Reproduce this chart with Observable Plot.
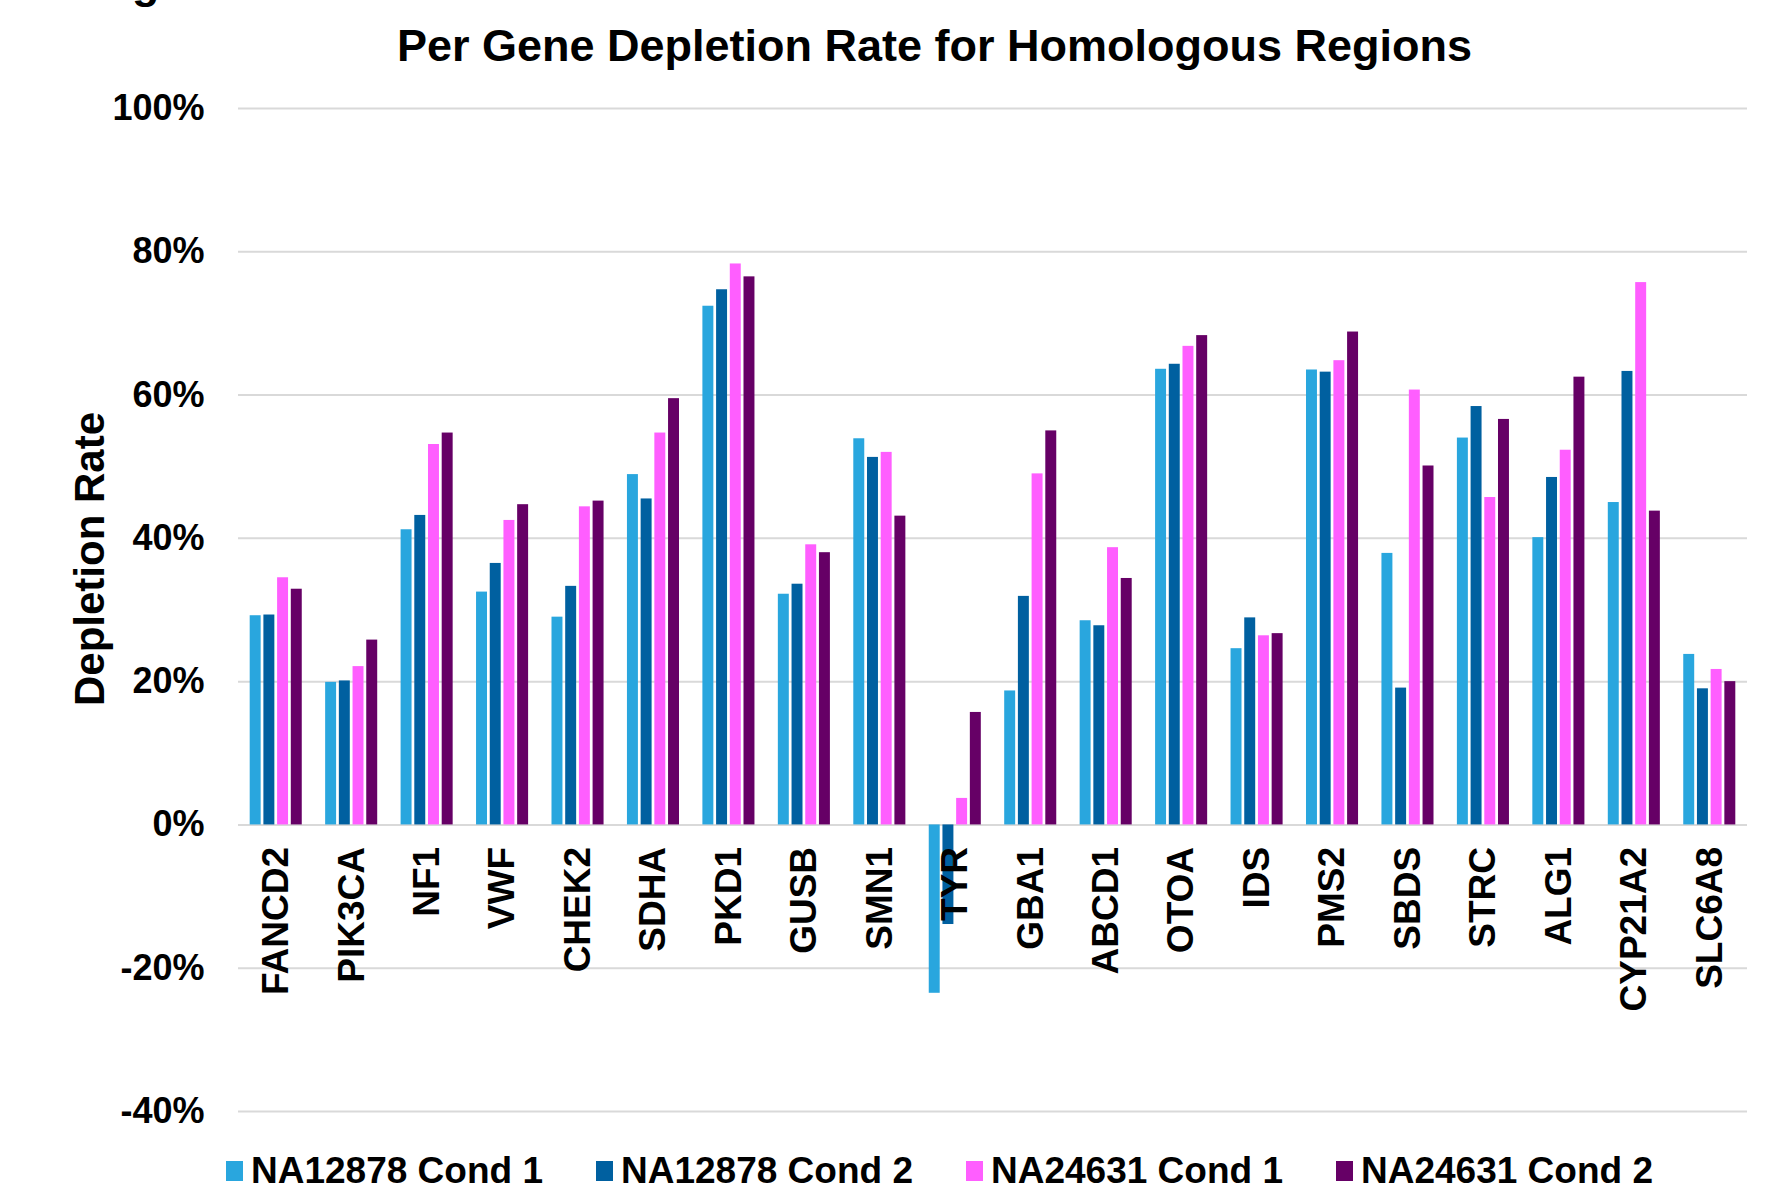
<!DOCTYPE html>
<html>
<head>
<meta charset="utf-8">
<script src="https://cdn.jsdelivr.net/npm/d3@7"></script>
<script src="https://cdn.jsdelivr.net/npm/@observablehq/plot@0.6"></script>
<style>
  html, body { margin: 0; padding: 0; background: #fff; overflow: hidden; }
  body { font-family: "Liberation Sans", Arial, sans-serif; color: #000; }
  #wrap { position: relative; width: 1781px; }
  #fig { position: absolute; left: 92px; top: -40px; font-size: 45px; font-weight: bold; line-height: 1; white-space: nowrap; }
  #title { height: 92px; box-sizing: border-box; padding-left: 88px; display: flex; align-items: center; justify-content: center; font-size: 45px; font-weight: bold; white-space: nowrap; }
  #chart svg { display: block; }
  #legend { height: 49px; box-sizing: border-box; padding-top: 12px; display: flex; align-items: flex-start; padding-left: 226px; font-size: 37px; line-height: 37px; font-weight: bold; white-space: nowrap; }
  .item { display: flex; align-items: center; margin-right: 53px; }
  .sw { width: 17px; height: 20px; margin-right: 8px; }
</style>
</head>
<body>
<div id="wrap">
  <div id="fig">Fig</div>
  <div id="title">Per Gene Depletion Rate for Homologous Regions</div>
  <div id="chart"></div>
  <div id="legend"></div>
</div>
<script>
const genes = ["FANCD2","PIK3CA","NF1","VWF","CHEK2","SDHA","PKD1","GUSB","SMN1","TYR","GBA1","ABCD1","OTOA","IDS","PMS2","SBDS","STRC","ALG1","CYP21A2","SLC6A8"];
const seriesNames = ["NA12878 Cond 1","NA12878 Cond 2","NA24631 Cond 1","NA24631 Cond 2"];
const seriesColors = ["#29A6DE","#0060A0","#FF5EFF","#660066"];
const na12878Cond1 = [29.2,19.9,41.2,32.5,29.0,48.9,72.4,32.2,53.9,-23.5,18.7,28.5,63.6,24.6,63.5,37.9,54.0,40.1,45.0,23.8];
const na12878Cond2 = [29.3,20.1,43.2,36.5,33.3,45.5,74.7,33.6,51.3,-13.9,31.9,27.8,64.3,28.9,63.2,19.1,58.4,48.5,63.3,19.0];
const na24631Cond1 = [34.5,22.1,53.1,42.5,44.4,54.7,78.3,39.1,52.0,3.7,49.0,38.7,66.8,26.4,64.8,60.7,45.7,52.3,75.7,21.7];
const na24631Cond2 = [32.9,25.8,54.7,44.7,45.2,59.5,76.5,38.0,43.1,15.7,55.0,34.4,68.3,26.7,68.8,50.1,56.6,62.5,43.8,20.0];
const yTicks = [-40,-20,0,20,40,60,80,100];

const seriesValues = [na12878Cond1, na12878Cond2, na24631Cond1, na24631Cond2];
const rows = [];
genes.forEach((g, i) => seriesValues.forEach((vals, s) => rows.push({gene: g, index: i, s, series: seriesNames[s], value: vals[i]})));

// group layout within each category step (fractions of the step)
const groupWidth = 0.69, barPad = 0.2;
const pitch = groupWidth / (4 - barPad);
const barW = pitch * (1 - barPad);

const chart = Plot.plot({
  width: 1781,
  height: 1048,
  marginTop: 16,
  marginBottom: 29,
  marginLeft: 238,
  marginRight: 34,
  style: {fontFamily: "Liberation Sans, Arial, sans-serif", fontSize: "36px", fontWeight: "bold", color: "#000", background: "#fff", overflow: "visible"},
  x: {domain: [-0.5, genes.length - 0.5], axis: null},
  y: {domain: [-40, 100], ticks: 7, tickFormat: d => `${d}%`, tickSize: 0, tickPadding: 34, label: null},
  color: {domain: seriesNames, range: seriesColors},
  marks: [
    Plot.ruleY(yTicks, {stroke: "#d9d9d9", strokeWidth: 2}),
    Plot.rect(rows, {
      x1: d => d.index - groupWidth / 2 + d.s * pitch,
      x2: d => d.index - groupWidth / 2 + d.s * pitch + barW,
      y1: 0,
      y2: "value",
      fill: "series"
    }),
    Plot.text(genes, {x: (d, i) => i, y: 0, text: d => d, rotate: -90, textAnchor: "end", lineAnchor: "middle", dy: 22, fontSize: 37, fontWeight: "bold", fill: "#000"}),
    Plot.text(["Depletion Rate"], {frameAnchor: "left", text: d => d, rotate: -90, textAnchor: "middle", lineAnchor: "middle", dx: -148, dy: -51, fontSize: 42, fontWeight: "bold", fill: "#000"})
  ]
});
document.getElementById("chart").appendChild(chart);

const legend = document.getElementById("legend");
seriesNames.forEach((name, i) => {
  const item = document.createElement("div");
  item.className = "item";
  const sw = document.createElement("div");
  sw.className = "sw";
  sw.style.background = seriesColors[i];
  const label = document.createElement("span");
  label.textContent = name;
  item.appendChild(sw);
  item.appendChild(label);
  legend.appendChild(item);
});
</script>
</body>
</html>
